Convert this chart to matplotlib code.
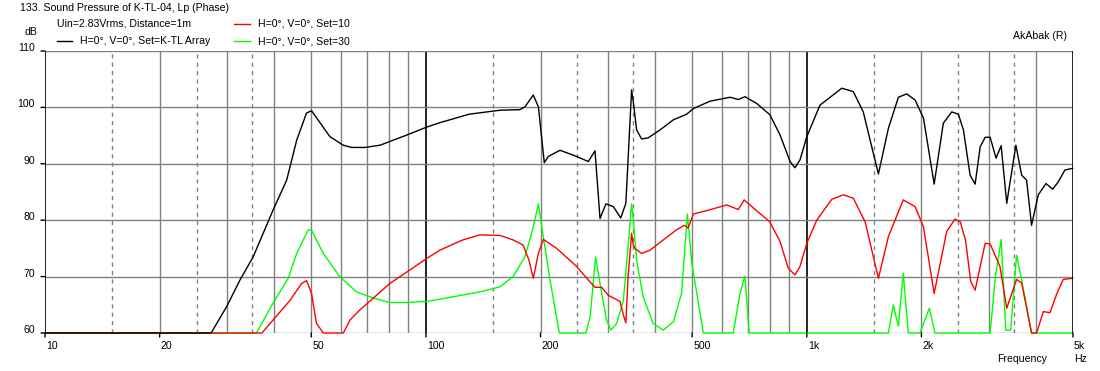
import numpy as np
import matplotlib
matplotlib.use("Agg")
import matplotlib.pyplot as plt

plt.rcParams['font.family'] = ['Liberation Sans', 'DejaVu Sans']

# K-TL Array (black)
f_black = [10, 27.3, 30.0, 32.5, 35.2, 39.7, 43.1, 45.8, 48.6, 50.1, 56.0, 60.7, 63.8, 69.2, 75.8,
           89.1, 100.4, 108.9, 130, 156.6, 176.6, 182, 191.4, 197.4, 204.6, 209.6, 225, 248.8,
           266.9, 278, 286.5, 297, 310.6, 324.8, 335, 346.8, 350.4, 357.5, 368.4, 383.4, 411.8,
           446.5, 484, 504, 557, 629, 661, 688, 739, 800, 851, 904, 931, 960, 1000, 1083, 1236,
           1325, 1407, 1495, 1542, 1638, 1740, 1830, 1925, 2025, 2160, 2283, 2402, 2500, 2578,
           2684, 2767, 2853, 2940, 3030, 3140, 3238, 3350, 3540, 3665, 3777, 3892, 4053, 4247,
           4423, 4575, 4760, 4990]
db_black = [60, 60, 64.7, 69.4, 73.5, 81.8, 87.1, 94.2, 99.0, 99.4, 94.8, 93.3, 92.9, 92.9, 93.3,
            95.1, 96.5, 97.3, 98.8, 99.5, 99.6, 100.1, 102.2, 100.1, 90.2, 91.3, 92.4, 91.3,
            90.4, 92.3, 80.3, 82.9, 82.4, 80.4, 83.0, 103.1, 101.0, 96.0, 94.4, 94.6, 96.0,
            97.8, 98.8, 99.8, 101.1, 101.8, 101.4, 101.9, 100.7, 98.7, 95.1, 90.4, 89.3, 90.7,
            94.8, 100.4, 103.4, 102.8, 99.2, 91.9, 88.2, 96.3, 101.8, 102.4, 101.3, 98.1, 86.4,
            97.2, 99.2, 98.8, 96.0, 88.0, 86.4, 93.0, 94.7, 94.7, 91.0, 93.2, 83.0, 93.3, 88.0,
            87.1, 79.1, 84.5, 86.5, 85.5, 86.8, 88.9, 89.2]

# Set=10 (red)
f_red = [10, 37.1, 39.7, 44.0, 47.2, 48.6, 50.1, 51.6, 53.8, 60.7, 63.2, 67.1, 72.8, 80.5, 90.9,
         100.4, 108.9, 125, 138.7, 156.6, 169.4, 180, 186.5, 191.4, 197.4, 203.4, 220.5, 248.8,
         266.9, 278, 289.4, 301, 323.3, 330, 335, 339.5, 346.8, 350.4, 354, 368.4, 388, 420,
         455, 478, 488, 504, 546, 616, 661, 685, 709, 800, 851, 894, 931, 960, 1000, 1062,
         1163, 1247, 1325, 1423, 1542, 1638, 1792, 1925, 2025, 2160, 2330, 2450, 2530, 2610,
         2695, 2767, 2940, 3030, 3215, 3350, 3555, 3665, 3892, 4013, 4180, 4351, 4530, 4713,
         4990]
db_red = [60, 60, 62.3, 65.8, 68.8, 69.3, 67.0, 61.7, 60, 60, 62.3, 64.1, 66.2, 68.8, 71.2,
          73.2, 74.7, 76.5, 77.4, 77.3, 76.5, 75.6, 72.9, 69.7, 74.1, 76.6, 75.0, 71.8,
          69.4, 68.1, 68.1, 66.7, 65.6, 63.2, 61.8, 70.0, 77.7, 75.6, 75.0, 74.1, 74.7, 76.5,
          78.3, 79.1, 78.6, 81.1, 81.7, 82.7, 81.9, 83.6, 82.7, 79.7, 76.2, 71.5, 70.3, 71.8,
          75.9, 80.0, 83.7, 84.5, 83.9, 79.7, 69.7, 77.1, 83.6, 82.4, 78.8, 67.0, 78.0, 80.2,
          79.7, 76.5, 69.1, 67.6, 75.9, 75.8, 71.8, 64.4, 69.5, 68.9, 60, 60, 63.8, 63.6,
          66.9, 69.5, 69.7]

# Set=30 (green)
f_green = [10, 35.9, 39.7, 43.5, 45.8, 49.1, 50.1, 53.8, 59.4, 65.7, 72.8, 80.5, 89.1, 100.4,
           108.9, 139, 156.6, 169.4, 182, 191.4, 197.4, 201.5, 211.8, 224, 263, 270, 279, 286.5,
           298, 306, 317, 330, 339.5, 346.8, 350.4, 357.5, 372, 395, 420, 446.5, 469, 486, 499,
           535, 641, 668, 688, 706, 1638, 1687, 1740, 1792, 1847, 1982, 2098, 2171, 3030, 3128,
           3238, 3330, 3430, 3555, 3665, 3892, 4990]
db_green = [60, 60, 65.3, 69.7, 74.1, 78.3, 78.2, 74.1, 70.0, 67.3, 66.2, 65.4, 65.4, 65.6,
            66.0, 67.3, 68.2, 70.0, 73.5, 78.8, 82.9, 78.8, 69.4, 60, 60, 62.9, 73.5, 68.8,
            62.3, 60.5, 61.7, 65.8, 75.3, 82.9, 80.0, 72.9, 66.4, 61.7, 60.5, 62.0, 67.0, 81.1,
            72.4, 60, 60, 67.0, 70.1, 60, 60, 65.0, 61.2, 70.6, 60, 60, 64.4, 60, 60, 70.0,
            76.6, 60.5, 60.5, 73.8, 69.4, 60, 60]

y_ticks = [60, 70, 80, 90, 100, 110]
x_labels = {10: "10", 20: "20", 50: "50", 100: "100", 200: "200", 500: "500",
            1000: "1k", 2000: "2k", 5000: "5k"}

W, H = 1100, 371
fig = plt.figure(figsize=(W / 100, H / 100), dpi=100)
x0, x1, ytop, ybot = 45, 1073, 51, 333
ax = fig.add_axes([x0 / W, 1 - ybot / H, (x1 - x0) / W, (ybot - ytop) / H])
ax.set_xscale("log")
ax.set_xlim(10, 5000)
ax.set_ylim(60, 110)
ax.axis("off")

grey = "#808080"
# vertical grid
for dec in [10, 100, 1000]:
    for m in range(1, 10):
        f = dec * m
        if f <= 10 or f >= 5000:
            continue
        if m == 1:
            ax.axvline(f, color="black", lw=1.2, zorder=1)
        else:
            ax.axvline(f, color=grey, lw=1, zorder=1)
    for m in [1.5, 2.5, 3.5]:
        ax.axvline(dec * m, color=grey, lw=1, ls=(0, (3, 3)), zorder=1)
for y in y_ticks[1:]:
    ax.axhline(y, color=grey, lw=1, zorder=1)

ax.plot(f_green, db_green, color="#00ff00", lw=1, zorder=3, clip_on=False)
ax.plot(f_red, db_red, color="#ff0000", lw=1, zorder=4, clip_on=False)
ax.plot(f_black, db_black, color="black", lw=1, zorder=5, clip_on=False)

# frame
ax.axvline(10, color="black", lw=1.2, zorder=6)
ax.axvline(5000, color="black", lw=1.2, zorder=6)
ax.axhline(60, color=grey, lw=1, zorder=2)

fs = 7.6
# y labels and ticks
for y in y_ticks:
    ax.annotate(str(y), xy=(0, y), xycoords=("axes fraction", "data"),
                xytext=(-10, 3), textcoords="offset pixels", ha="right", va="center",
                fontsize=fs)
    ax.annotate("", xy=(0, y), xycoords=("axes fraction", "data"),
                xytext=(-4, 0), textcoords="offset pixels",
                arrowprops=dict(arrowstyle="-", color="black", lw=1, shrinkA=0, shrinkB=0))
# x labels and ticks
for f, lab in x_labels.items():
    ax.annotate(lab, xy=(f, 0), xycoords=("data", "axes fraction"),
                xytext=(1, -13), textcoords="offset pixels", ha="left", va="center",
                fontsize=fs)
    ax.annotate("", xy=(f, 0), xycoords=("data", "axes fraction"),
                xytext=(0, -4), textcoords="offset pixels",
                arrowprops=dict(arrowstyle="-", color="black", lw=1, shrinkA=0, shrinkB=0))

def px(x, y, s, **kw):
    fig.text(x / W, 1 - y / H, s, fontsize=fs, va="center", **kw)

px(20, 8, "133. Sound Pressure of K-TL-04, Lp (Phase)")
px(57, 24, "Uin=2.83Vrms, Distance=1m")
px(80, 41, "H=0°, V=0°, Set=K-TL Array")
px(258, 24, "H=0°, V=0°, Set=10")
px(258, 41, "H=0°, V=0°, Set=30")
px(37, 32, "dB", ha="right")
px(1067, 36, "AkAbak (R)", ha="right")
px(997, 359, "Frequency")
px(1074, 359, "Hz")

for (xa, xb, y, c) in [(57, 72, 41, "black"), (234, 250, 24, "#ff0000"), (234, 250, 41, "#00ff00")]:
    fig.add_artist(plt.Line2D([xa / W, xb / W], [1 - y / H, 1 - y / H], color=c, lw=1))

fig.savefig("out.png", dpi=100, facecolor="white")
